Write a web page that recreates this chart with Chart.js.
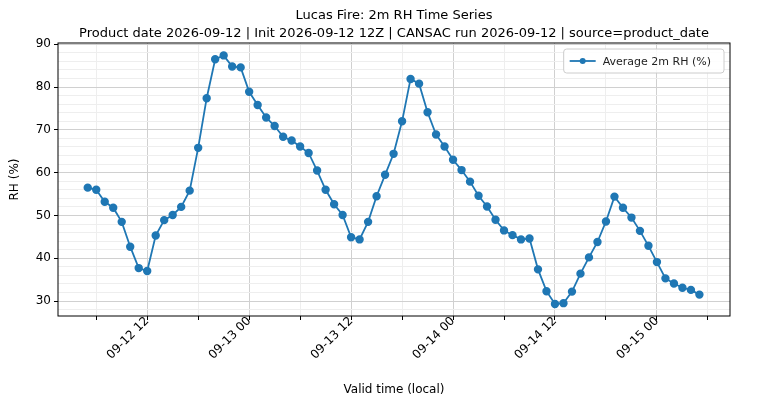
<!DOCTYPE html>
<html><head><meta charset="utf-8">
<script src="https://cdn.jsdelivr.net/npm/chart.js@4"></script>
<style>body{margin:0;background:#fff}#c{display:block}</style></head>
<body><div style="width:775px;height:409px"><canvas id="c" width="775" height="409"></canvas></div>
<script>
// hours since 2026-09-12 00:00 local
const startHour = 5;
const rhValues = [56.5,56,53.2,51.8,48.5,42.7,37.7,37,45.3,48.9,50.1,52,55.8,65.8,77.4,86.5,87.4,84.8,84.6,
78.9,75.8,72.9,70.9,68.4,67.5,66.1,64.6,60.5,56,52.6,50.1,44.9,44.4,48.5,54.5,59.5,64.4,72,81.9,80.8,74.1,68.9,66.1,
63,60.6,57.9,54.6,52.1,49,46.5,45.4,44.4,44.6,37.4,32.3,29.3,29.5,32.2,36.4,40.2,43.8,48.6,54.4,51.8,49.5,46.4,42.9,
39.1,35.3,34.1,33.1,32.6,31.5];
const tickLabels = {12:'09-12 12',24:'09-13 00',36:'09-13 12',48:'09-14 00',60:'09-14 12',72:'09-15 00'};
const titleLines = ['Lucas Fire: 2m RH Time Series','Product date 2026-09-12 | Init 2026-09-12 12Z | CANSAC run 2026-09-12 | source=product_date'];
const legendLabel = 'Average 2m RH (%)';
const pts = rhValues.map((v,i)=>({x:startHour+i,y:v}));
const blue = '#1f77b4';
const F = 'DejaVu Sans';
const deco = {id:'deco',
  afterDraw(ch){const c=ch.ctx,a=ch.chartArea;c.save();
    c.strokeStyle='#000';c.lineWidth=1;c.strokeRect(a.left,a.top,a.right-a.left,a.bottom-a.top);
    c.fillStyle='#000';c.textAlign='center';c.textBaseline='middle';c.font='13px "'+F+'"';
    c.fillText(titleLines[0],(a.left+a.right)/2,16);c.fillText(titleLines[1],(a.left+a.right)/2,34);
    c.font='11px "'+F+'"';const w=c.measureText(legendLabel).width+52,h=24;
    const x=a.right-6-w,y=a.top+6;
    c.fillStyle='rgba(255,255,255,0.85)';c.strokeStyle='#ccc';
    c.beginPath();c.roundRect(x,y,w,h,3);c.fill();c.stroke();
    c.strokeStyle=blue;c.lineWidth=1.8;c.beginPath();c.moveTo(x+6,y+h/2);c.lineTo(x+32,y+h/2);c.stroke();
    c.fillStyle=blue;c.beginPath();c.arc(x+19,y+h/2,3,0,Math.PI*2);c.fill();
    c.fillStyle='#222';c.textAlign='left';c.fillText(legendLabel,x+39,y+h/2+1);
    c.restore();}};
new Chart(document.getElementById('c'),{type:'line',
 data:{datasets:[{label:legendLabel,data:pts,borderColor:blue,backgroundColor:blue,borderWidth:1.8,pointRadius:3.3,tension:0}]},
 options:{responsive:false,animation:false,
  layout:{padding:{top:43,right:45,left:8,bottom:12}},
  plugins:{legend:{display:false},tooltip:{enabled:false}},
  scales:{
   x:{type:'linear',min:1.5,max:80.6,afterBuildTicks(s){const t=[];for(let v=6;v<=78;v+=6)t.push({value:v});s.ticks=t;},
      afterFit(s){s.height=81;},
      ticks:{autoSkip:false,maxRotation:45,minRotation:45,padding:-6,color:'#000',font:{family:F,size:12},callback:v=>tickLabels[v]||''},
      grid:{color:c=>c.tick&&tickLabels[c.tick.value]?'#d0d0d0':'#eeeeee',tickColor:'#000',tickLength:4,lineWidth:1},
      border:{display:false},
      title:{display:true,text:'Valid time (local)',color:'#000',font:{family:F,size:12},padding:{top:0,bottom:0}}},
   y:{min:26.5,max:90.3,afterBuildTicks(s){const t=[];for(let v=28;v<=90;v+=2)t.push({value:v});s.ticks=t;},
      afterFit(s){s.width=50;},
      ticks:{autoSkip:false,color:'#000',font:{family:F,size:12},callback:v=>v%10===0?String(v):''},
      grid:{color:c=>c.tick&&c.tick.value%10===0?'#d0d0d0':'#eeeeee',tickColor:c=>c.tick&&c.tick.value%10===0?'#000':'rgba(0,0,0,0)',tickLength:4},
      border:{display:false},
      title:{display:true,text:'RH (%)',color:'#000',font:{family:F,size:12},padding:{top:0,bottom:2}}}
  }},plugins:[deco]});
</script></body></html>
